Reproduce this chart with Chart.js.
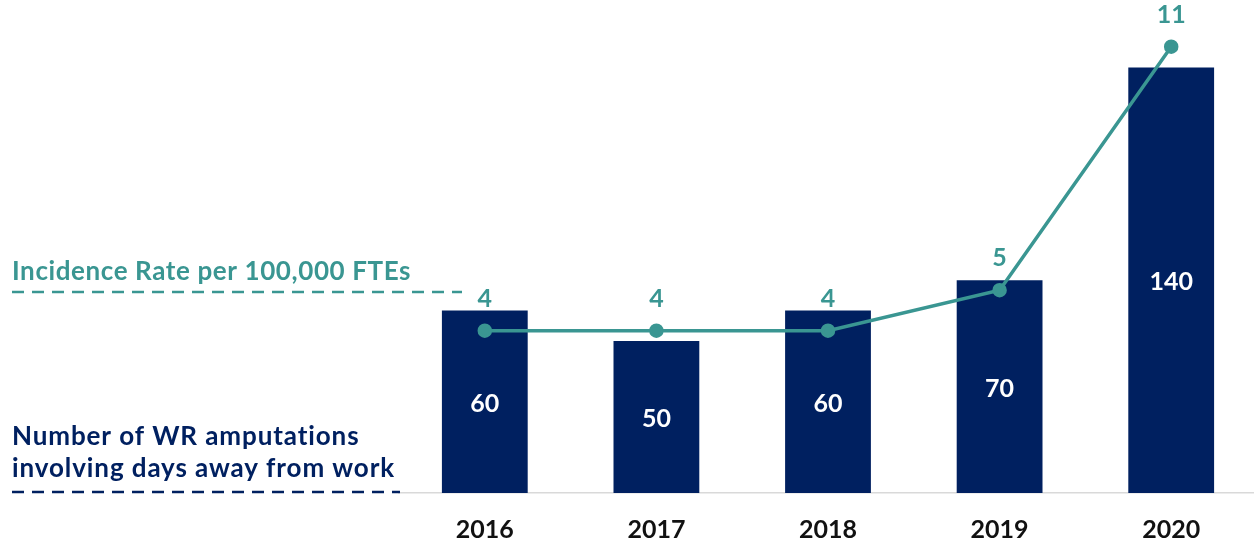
<!DOCTYPE html>
<html>
<head>
<meta charset="utf-8">
<script src="https://cdn.jsdelivr.net/npm/chart.js@4"></script>
<style>
  html, body { margin: 0; padding: 0; background: #fff; overflow: hidden; }
</style>
</head>
<body>
<canvas id="amputChart" width="1266" height="546"></canvas>
<script>
const years = ["2016", "2017", "2018", "2019", "2020"];
const amputations = [60, 50, 60, 70, 140];
const incidenceRate = [4, 4, 4, 5, 11];

const navy = "#002060";
const teal = "#3a9692";
const fontFamily = "Lato, 'Open Sans', sans-serif";

// labels on bars / points plus the two left-side series titles
const labelPlugin = {
  id: "labels",
  afterDatasetsDraw(chart) {
    const ctx = chart.ctx;
    ctx.save();
    ctx.textAlign = "center";
    ctx.textBaseline = "middle";

    // bar values, centered in bar
    ctx.font = "bold 25px " + fontFamily;
    ctx.fillStyle = "#ffffff";
    chart.getDatasetMeta(1).data.forEach((bar, i) => {
      ctx.fillText(amputations[i], bar.x, (bar.y + bar.base) / 2 + 2);
    });

    // rate values, above points
    ctx.fillStyle = teal;
    chart.getDatasetMeta(0).data.forEach((pt, i) => {
      ctx.fillText(incidenceRate[i], pt.x, pt.y - 32);
    });

    // left titles
    ctx.textAlign = "left";
    ctx.textBaseline = "alphabetic";
    ctx.font = "bold 26px " + fontFamily;
    ctx.letterSpacing = "0.6px";
    ctx.fillStyle = teal;
    ctx.fillText("Incidence Rate per 100,000 FTEs", 12, 280);
    ctx.fillStyle = navy;
    ctx.letterSpacing = "0.9px";
    ctx.fillText("Number of WR amputations", 12, 445);
    ctx.fillText("involving days away from work", 12, 477);
    ctx.letterSpacing = "0px";

    ctx.lineWidth = 2.5;
    ctx.setLineDash([12, 8]);
    ctx.strokeStyle = teal;
    ctx.beginPath();
    ctx.moveTo(12, 292);
    ctx.lineTo(462, 292);
    ctx.stroke();
    ctx.strokeStyle = navy;
    ctx.beginPath();
    ctx.moveTo(12, 492);
    ctx.lineTo(400, 492);
    ctx.stroke();
    ctx.restore();
  }
};

new Chart(document.getElementById("amputChart"), {
  data: {
    labels: years,
    datasets: [
      {
        type: "line",
        label: "Incidence Rate per 100,000 FTEs",
        data: incidenceRate,
        yAxisID: "yRate",
        borderColor: teal,
        backgroundColor: teal,
        borderWidth: 3.5,
        pointRadius: 5.5,
        pointBackgroundColor: teal,
        tension: 0,
        order: 0
      },
      {
        type: "bar",
        label: "Number of WR amputations involving days away from work",
        data: amputations,
        yAxisID: "yCount",
        backgroundColor: navy,
        barPercentage: 0.5,
        categoryPercentage: 1,
        order: 1
      }
    ]
  },
  options: {
    responsive: false,
    animation: false,
    layout: { padding: { left: 399, right: 0, top: 37, bottom: -21 } },
    plugins: {
      legend: { display: false },
      tooltip: { enabled: false }
    },
    scales: {
      x: {
        grid: { display: false, drawTicks: false },
        border: { display: true, color: "#d9d9d9", width: 1.5 },
        ticks: {
          color: "#111111",
          padding: 22,
          font: { family: fontFamily, size: 25, weight: "bold" }
        }
      },
      yCount: {
        display: false,
        min: 0,
        max: 150
      },
      yRate: {
        display: false,
        position: "right",
        min: 0,
        max: 11.24
      }
    }
  },
  plugins: [labelPlugin]
});
</script>
</body>
</html>
